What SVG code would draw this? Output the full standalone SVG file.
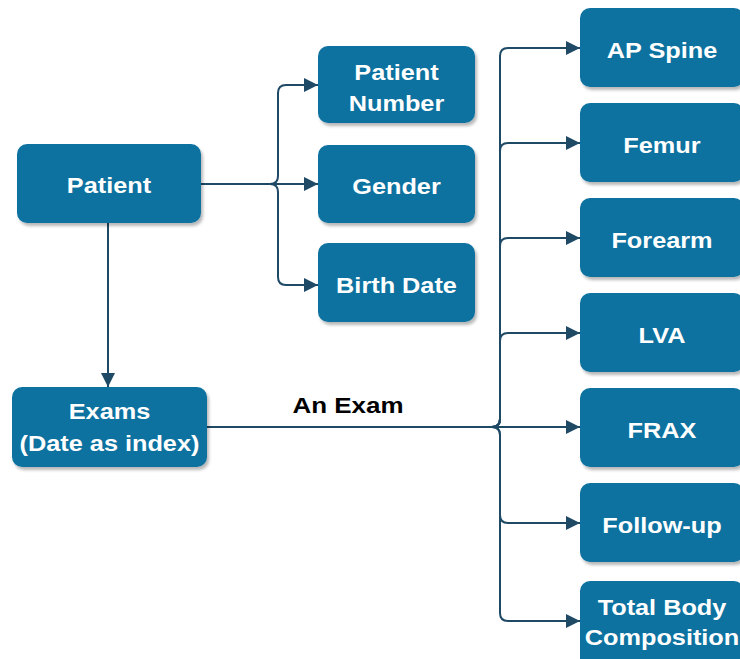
<svg xmlns="http://www.w3.org/2000/svg" width="740" height="659" viewBox="0 0 740 659">
<style>
.node rect{fill:#0F72A0;filter:url(#sh)}
.node text{fill:#ffffff;font-family:"Liberation Sans",Arial,sans-serif;font-weight:bold;font-size:22px;text-anchor:middle}
.edge{fill:none;stroke:#1F4A66;stroke-width:2;marker-end:url(#arr)}
.lbl{fill:#000000;font-family:"Liberation Sans",Arial,sans-serif;font-weight:bold;font-size:22px;text-anchor:middle}
</style>
<defs>
<filter id="sh" x="-10%" y="-10%" width="130%" height="140%">
<feDropShadow dx="2" dy="3" stdDeviation="1.5" flood-color="#000000" flood-opacity="0.28"/>
</filter>
<marker id="arr" markerUnits="userSpaceOnUse" markerWidth="15" markerHeight="14" refX="14" refY="7" orient="auto">
<path d="M0,0 L14,7 L0,14 Z" fill="#1F4A66"/>
</marker>
</defs>
<rect width="740" height="659" fill="#ffffff"/>
<g id="connectors">
<path class="edge" d="M201,184 H270 Q278,184 278,176 V93 Q278,85 286,85 H318"/>
<path class="edge" d="M201,184 H318"/>
<path class="edge" d="M201,184 H270 Q278,184 278,192 V277 Q278,285 286,285 H318"/>
<path class="edge" d="M108,223 V387"/>
<path class="edge" d="M207,427 H492 Q500,427 500,419 V56 Q500,48 508,48 H580"/>
<path class="edge" d="M207,427 H492 Q500,427 500,419 V151 Q500,143 508,143 H580"/>
<path class="edge" d="M207,427 H492 Q500,427 500,419 V246 Q500,238 508,238 H580"/>
<path class="edge" d="M207,427 H492 Q500,427 500,419 V341 Q500,333 508,333 H580"/>
<path class="edge" d="M207,427 H580"/>
<path class="edge" d="M207,427 H492 Q500,427 500,435 V515 Q500,523 508,523 H580"/>
<path class="edge" d="M207,427 H492 Q500,427 500,435 V613 Q500,621 508,621 H580"/>
<text class="lbl" transform="translate(348,413) scale(1.18,1)">An Exam</text>
</g>
<g id="patient" class="node"><rect x="17" y="144" width="184" height="79" rx="10"/><text transform="translate(109,193) scale(1.15,1)">Patient</text></g>
<g id="patient-number" class="node"><rect x="318" y="46" width="157" height="77" rx="10"/><text transform="translate(396.5,80) scale(1.15,1)">Patient</text><text transform="translate(396.5,111) scale(1.15,1)">Number</text></g>
<g id="gender" class="node"><rect x="318" y="145" width="157" height="78" rx="10"/><text transform="translate(396.5,194) scale(1.15,1)">Gender</text></g>
<g id="birth-date" class="node"><rect x="318" y="243" width="157" height="79" rx="10"/><text transform="translate(396.5,293) scale(1.15,1)">Birth Date</text></g>
<g id="exams" class="node"><rect x="12" y="387" width="195" height="80" rx="10"/><text transform="translate(109.5,419) scale(1.15,1)">Exams</text><text transform="translate(109.5,451) scale(1.15,1)">(Date as index)</text></g>
<g id="ap-spine" class="node"><rect x="580" y="8" width="164" height="79" rx="10"/><text transform="translate(662,58) scale(1.15,1)">AP Spine</text></g>
<g id="femur" class="node"><rect x="580" y="103" width="164" height="79" rx="10"/><text transform="translate(662,153) scale(1.15,1)">Femur</text></g>
<g id="forearm" class="node"><rect x="580" y="198" width="164" height="79" rx="10"/><text transform="translate(662,248) scale(1.15,1)">Forearm</text></g>
<g id="lva" class="node"><rect x="580" y="293" width="164" height="79" rx="10"/><text transform="translate(662,343) scale(1.15,1)">LVA</text></g>
<g id="frax" class="node"><rect x="580" y="388" width="164" height="79" rx="10"/><text transform="translate(662,438) scale(1.15,1)">FRAX</text></g>
<g id="follow-up" class="node"><rect x="580" y="483" width="164" height="79" rx="10"/><text transform="translate(662,533) scale(1.15,1)">Follow-up</text></g>
<g id="total-body" class="node"><rect x="580" y="581" width="164" height="90" rx="10"/><text transform="translate(662,615) scale(1.15,1)">Total Body</text><text transform="translate(662,645) scale(1.15,1)">Composition</text></g>
</svg>
